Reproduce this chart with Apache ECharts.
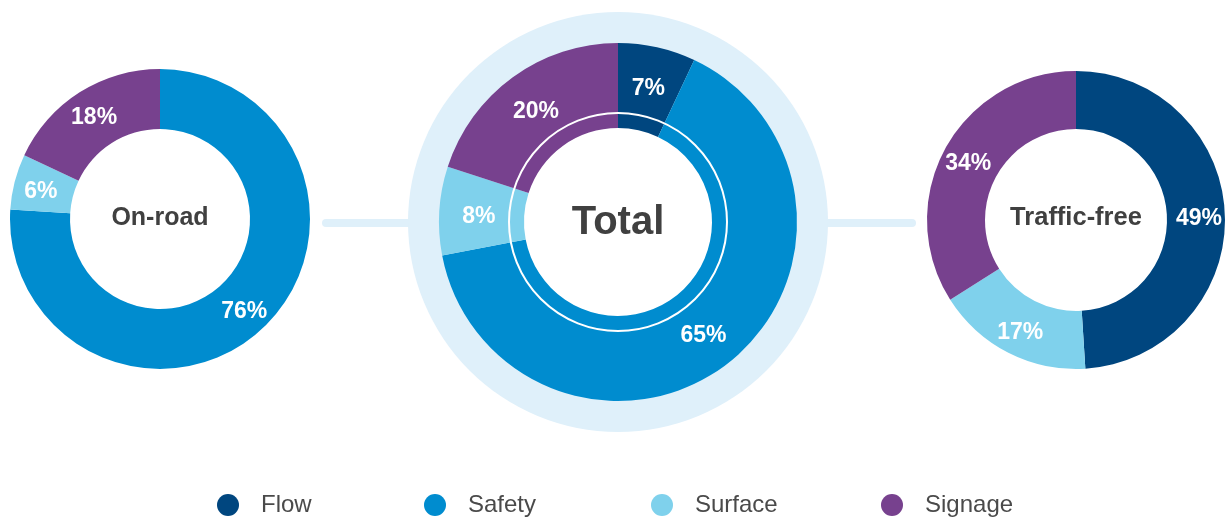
<!DOCTYPE html>
<html>
<head>
<meta charset="utf-8">
<script src="https://cdn.jsdelivr.net/npm/echarts@6/dist/echarts.min.js"></script>
<style>
  html, body { margin: 0; padding: 0; background: #ffffff; }
  #chart { width: 1227px; height: 519px; }
</style>
</head>
<body>
<div id="chart"></div>
<script>
// ---- data ----
const categories = ['Flow', 'Safety', 'Surface', 'Signage'];
const onRoadValues = [0, 76, 6, 18];
const totalValues = [7, 65, 8, 20];
const trafficFreeValues = [49, 0, 17, 34];
const chartTitles = ['On-road', 'Total', 'Traffic-free'];

// ---- styles ----
const colors = ['#00467f', '#008ccf', '#7fd1ec', '#77418e'];
const FONT = 'Liberation Sans, Arial, Helvetica, sans-serif';
const paleBlue = '#dff0fa';
const textDark = '#404040';

function buildData(values) {
  return categories.map((name, i) => ({
    name: name,
    value: values[i],
    itemStyle: { color: colors[i] },
    label: { show: values[i] > 0 }
  }));
}

function donut(values, center, radius) {
  return {
    type: 'pie',
    center: center,
    radius: radius,
    startAngle: 90,
    clockwise: true,
    avoidLabelOverlap: false,
    silent: true,
    z: 2,
    itemStyle: { borderWidth: 0 },
    label: {
      show: true,
      position: 'inside',
      formatter: '{c}%',
      color: '#ffffff',
      fontFamily: FONT,
      fontWeight: 'bold',
      fontSize: 23,
      offset: [0, 3]
    },
    labelLine: { show: false },
    emphasis: { disabled: true },
    data: buildData(values)
  };
}

const leftC = [160, 219];
const midC = [618, 222];
const rightC = [1076, 220];

function legendAt(left, name) {
  return {
    show: true,
    left: left,
    top: 488,
    orient: 'horizontal',
    icon: 'circle',
    itemWidth: 56,
    itemHeight: 22,
    selectedMode: false,
    data: [name],
    textStyle: { color: '#4a4a4a', fontFamily: FONT, fontSize: 24 }
  };
}

const option = {
  backgroundColor: '#ffffff',
  animation: false,
  legend: [
    legendAt(212, categories[0]),
    legendAt(419, categories[1]),
    legendAt(646, categories[2]),
    legendAt(876, categories[3])
  ],
  graphic: [
    { type: 'line', z: -10, shape: { x1: 326, y1: 223, x2: 430, y2: 223 },
      style: { stroke: paleBlue, lineWidth: 8, lineCap: 'round' }, silent: true },
    { type: 'line', z: -10, shape: { x1: 800, y1: 223, x2: 912, y2: 223 },
      style: { stroke: paleBlue, lineWidth: 8, lineCap: 'round' }, silent: true },
    { type: 'circle', z: -5, shape: { cx: midC[0], cy: midC[1], r: 210 },
      style: { fill: paleBlue }, silent: true },
    { type: 'circle', z: -4, shape: { cx: midC[0], cy: midC[1], r: 100 },
      style: { fill: '#ffffff' }, silent: true },
    { type: 'circle', z: 100, shape: { cx: midC[0], cy: midC[1], r: 109 },
      style: { fill: null, stroke: '#ffffff', lineWidth: 2 }, silent: true },
    { type: 'text', z: 100, x: leftC[0], y: 218,
      style: { text: chartTitles[0], fill: textDark, font: 'bold 25px ' + FONT, textAlign: 'center', textVerticalAlign: 'middle' } },
    { type: 'text', z: 100, x: midC[0], y: 223,
      style: { text: chartTitles[1], fill: textDark, font: 'bold 40px ' + FONT, textAlign: 'center', textVerticalAlign: 'middle' } },
    { type: 'text', z: 100, x: rightC[0], y: 218,
      style: { text: chartTitles[2], fill: textDark, font: 'bold 25.5px ' + FONT, textAlign: 'center', textVerticalAlign: 'middle' } }
  ],
  series: [
    donut(onRoadValues, leftC, [90, 150]),
    donut(totalValues, midC, [94, 179]),
    donut(trafficFreeValues, rightC, [91, 149])
  ]
};

const chart = echarts.init(document.getElementById('chart'), null, { renderer: 'canvas' });
chart.setOption(option);
</script>
</body>
</html>
